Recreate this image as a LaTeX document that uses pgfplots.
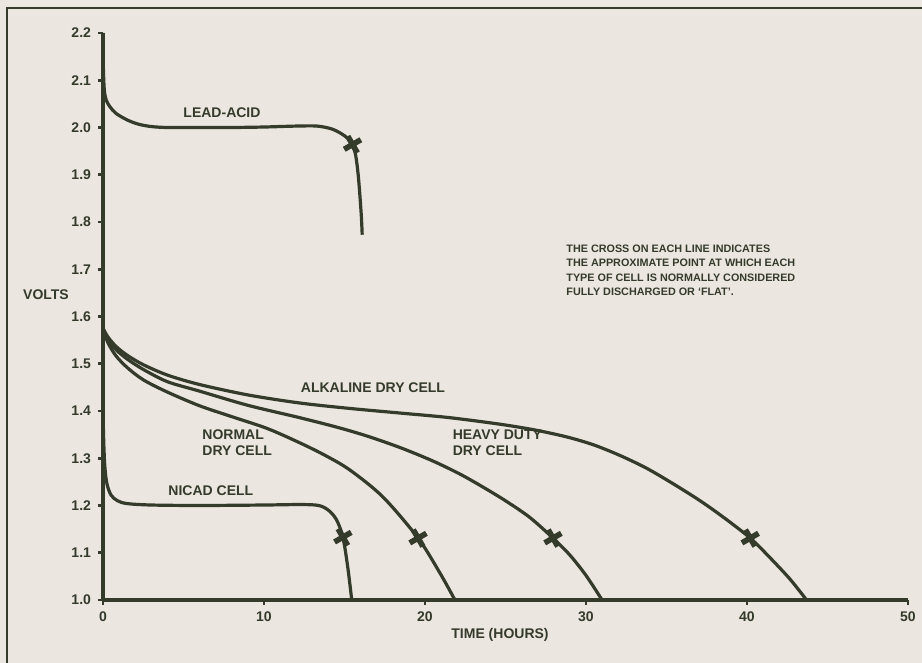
\documentclass[border=0pt]{standalone}
\usepackage{fontspec}
\setmainfont{Liberation Sans}
\usepackage{pgfplots}
\pgfplotsset{compat=1.18}
\definecolor{ink}{HTML}{343B2B}
\definecolor{paper}{HTML}{ECE6E0}
\begin{document}
\begin{tikzpicture}
\fill[paper] (0,0) rectangle (461pt,331.5pt);
\useasboundingbox (0,0) rectangle (461pt,331.5pt);
\draw[ink, line width=1pt] (3.5pt,0) -- (3.5pt,327.5pt) -- (461pt,327.5pt);
\begin{axis}[
  at={(51.5pt,31.5pt)}, anchor=south west,
  scale only axis, width=402.5pt, height=283.5pt,
  xmin=0, xmax=50, ymin=1, ymax=2.2,
  axis x line*=bottom, axis y line*=left,
  axis line style={ink, line width=1.8pt, -},
  clip=false,
  xtick={0,10,20,30,40,50},
  ytick={1.0,1.1,1.2,1.3,1.4,1.5,1.6,1.7,1.8,1.9,2.0,2.1,2.2},
  tick align=outside, major tick length=2.5pt,
  tick style={ink, line width=1.3pt},
  ticklabel style={font=\fontsize{7}{8}\bfseries, text=ink},
  /pgf/number format/assume math mode=true,
  y tick label style={/pgf/number format/.cd, fixed, fixed zerofill, precision=1},
  every axis plot/.append style={ink, line width=1.6pt},
]
% Lead-acid
\addplot[smooth] coordinates {
(0,2.2) (0.02,2.13) (0.08,2.08) (0.2,2.058) (0.43,2.044) (0.8,2.03) (1.5,2.016) (2.2,2.007) (3,2.002) (4,2.0) (6,2.0) (8,2.0) (10,2.001) (12,2.003) (13.3,2.003) (14.2,1.997) (14.8,1.987) (15.2,1.977) (15.5,1.964) (15.7,1.94) (15.85,1.9) (15.97,1.85) (16.05,1.81) (16.1,1.773)};
% Nicad
\addplot[smooth] coordinates {
(0,1.40) (0.05,1.33) (0.12,1.28) (0.25,1.245) (0.5,1.222) (0.9,1.21) (1.5,1.204) (3,1.201) (6,1.2) (10,1.201) (12.3,1.202) (13.4,1.2) (14.0,1.19) (14.5,1.17) (14.9,1.133) (15.2,1.07) (15.45,1.0)};
% Normal dry cell
\addplot[smooth] coordinates {
(0,1.575) (0.3,1.545) (0.8,1.517) (1.5,1.492) (2.5,1.466) (4,1.44) (6,1.411) (8,1.388) (10.2,1.363) (12.2,1.333) (13.8,1.306) (15.34,1.275) (17.39,1.218) (19.57,1.131) (20.93,1.057) (21.86,1.0)};
% Heavy duty dry cell
\addplot[smooth] coordinates {
(0,1.575) (0.3,1.553) (0.8,1.53) (1.5,1.51) (2.5,1.488) (4,1.462) (6,1.442) (9,1.412) (12.2,1.386) (14.5,1.366) (16.4,1.347) (18.5,1.322) (20.5,1.294) (22.2,1.266) (23.6,1.239) (25,1.21) (26.5,1.175) (27.95,1.131) (29,1.095) (30,1.052) (31,1.0)};
% Alkaline dry cell
\addplot[smooth] coordinates {
(0,1.575) (0.3,1.557) (0.8,1.537) (1.5,1.518) (2.5,1.498) (4,1.476) (6,1.456) (9,1.434) (12.2,1.417) (15.3,1.4055) (18.5,1.3955) (21.5,1.386) (24.66,1.372) (26.8,1.36) (28.82,1.345) (30.5,1.328) (32.1,1.306) (33.7,1.28) (35.22,1.25) (37,1.212) (38.5,1.176) (40.2,1.131) (41.5,1.087) (42.7,1.043) (43.7,1.0)};
% Crosses
\addplot[only marks, mark=x, mark size=4.8pt, mark options={rotate=-15, line width=2.8pt}] coordinates {
(15.5,1.964) (14.9,1.133) (19.57,1.131) (27.95,1.131) (40.2,1.131)};
% Labels
\begin{scope}[every node/.style={font=\fontsize{7}{8}\bfseries, text=ink, inner sep=0pt}]
\node at (axis cs:7.39,2.032) {LEAD-ACID};
\node at (axis cs:16.77,1.449) {ALKALINE DRY CELL};
\node[anchor=west, align=left] at (axis cs:6.15,1.332) {NORMAL\\DRY CELL};
\node[anchor=west, align=left] at (axis cs:21.7,1.332) {HEAVY DUTY\\DRY CELL};
\node at (axis cs:6.7,1.231) {NICAD CELL};
\node at (axis cs:-3.54,1.646) {VOLTS};
\node at (axis cs:24.66,0.926) {TIME (HOURS)};
\node[anchor=north west, align=left, font=\fontsize{5.4}{7.15}\bfseries] at (axis cs:28.76,1.752) {THE CROSS ON EACH LINE INDICATES\\THE APPROXIMATE POINT AT WHICH EACH\\TYPE OF CELL IS NORMALLY CONSIDERED\\FULLY DISCHARGED OR `FLAT'.};
\end{scope}
\end{axis}
\end{tikzpicture}
\end{document}
